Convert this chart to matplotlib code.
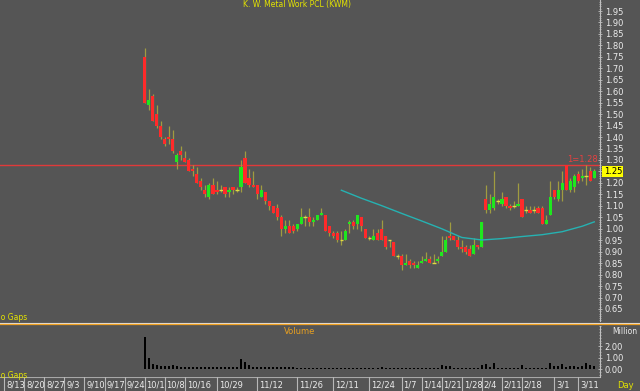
import matplotlib
matplotlib.use("Agg")
import matplotlib.pyplot as plt
from matplotlib.lines import Line2D
from matplotlib.ticker import MultipleLocator

# ---------------- data ----------------
title = "K. W. Metal Work PCL (KWM)"

opens = [1.75, 1.54, 1.58, 1.50, 1.45, 1.39, 1.40, 1.39, 1.29, 1.34,
         1.31, 1.30, 1.26, 1.24, 1.21, 1.17, 1.14, 1.19, 1.17, 1.17,
         1.18, 1.16, 1.18, 1.17, 1.18, 1.31, 1.22, 1.19, 1.19, 1.14,
         1.16, 1.12, 1.10, 1.09, 1.05, 1.00, 1.01, 1.01, 1.00, 1.02,
         1.05, 1.05, 1.03, 1.04, 1.06, 1.06, 1.01, 0.98, 0.98, 0.95,
         0.95, 1.02, 1.03, 1.02, 1.05, 1.00, 0.96, 0.95, 0.98, 1.00,
         0.97, 0.95, 0.94, 0.88, 0.88, 0.84, 0.86, 0.85, 0.83, 0.85,
         0.86, 0.87, 0.85, 0.86, 0.88, 0.90, 0.97, 0.97, 0.95, 0.92,
         0.92, 0.91, 0.89, 0.93, 0.92, 1.13, 1.08, 1.09, 1.12, 1.11,
         1.14, 1.10, 1.10, 1.10, 1.13, 1.08, 1.08, 1.08, 1.09, 1.09,
         1.02, 1.06, 1.17, 1.13, 1.17, 1.28, 1.17, 1.18, 1.24, 1.22,
         1.23, 1.25, 1.22]
highs = [1.79, 1.61, 1.59, 1.54, 1.47, 1.40, 1.45, 1.43, 1.33, 1.36,
         1.34, 1.31, 1.28, 1.27, 1.22, 1.19, 1.20, 1.22, 1.21, 1.19,
         1.18, 1.18, 1.18, 1.18, 1.30, 1.34, 1.26, 1.25, 1.19, 1.19,
         1.16, 1.12, 1.10, 1.11, 1.06, 1.04, 1.04, 1.02, 1.02, 1.09,
         1.06, 1.09, 1.05, 1.06, 1.09, 1.06, 1.01, 0.99, 0.99, 0.99,
         1.00, 1.04, 1.04, 1.06, 1.05, 1.00, 0.97, 1.00, 1.00, 1.04,
         0.97, 0.95, 0.94, 0.89, 0.89, 0.89, 0.87, 0.86, 0.86, 0.88,
         0.90, 0.88, 0.89, 0.88, 0.97, 0.97, 1.03, 0.97, 0.97, 0.95,
         0.93, 0.93, 0.96, 0.93, 1.03, 1.19, 1.15, 1.25, 1.13, 1.16,
         1.14, 1.11, 1.12, 1.20, 1.13, 1.10, 1.10, 1.10, 1.10, 1.10,
         1.06, 1.21, 1.17, 1.21, 1.25, 1.28, 1.22, 1.24, 1.25, 1.26,
         1.28, 1.27, 1.26]
lows = [1.55, 1.52, 1.47, 1.44, 1.39, 1.36, 1.37, 1.33, 1.26, 1.30,
        1.29, 1.25, 1.23, 1.20, 1.17, 1.14, 1.13, 1.15, 1.15, 1.16,
        1.14, 1.14, 1.15, 1.16, 1.16, 1.20, 1.18, 1.18, 1.13, 1.14,
        1.11, 1.08, 1.07, 1.04, 0.97, 0.98, 0.98, 0.98, 0.99, 1.02,
        1.01, 1.01, 1.01, 1.04, 1.06, 0.99, 0.97, 0.96, 0.94, 0.93,
        0.95, 0.98, 1.00, 1.00, 0.99, 0.96, 0.95, 0.95, 0.95, 0.95,
        0.91, 0.92, 0.88, 0.87, 0.82, 0.84, 0.83, 0.83, 0.83, 0.85,
        0.86, 0.85, 0.85, 0.85, 0.88, 0.90, 0.95, 0.95, 0.91, 0.90,
        0.89, 0.88, 0.89, 0.91, 0.92, 1.07, 1.07, 1.08, 1.11, 1.10,
        1.09, 1.08, 1.09, 1.10, 1.05, 1.07, 1.07, 1.07, 1.07, 1.02,
        1.02, 1.06, 1.13, 1.12, 1.12, 1.17, 1.16, 1.16, 1.20, 1.21,
        1.19, 1.21, 1.22]
closes = [1.55, 1.56, 1.47, 1.45, 1.40, 1.37, 1.39, 1.34, 1.32, 1.32,
          1.29, 1.25, 1.25, 1.20, 1.18, 1.15, 1.19, 1.15, 1.16, 1.17,
          1.15, 1.17, 1.17, 1.17, 1.27, 1.20, 1.19, 1.18, 1.15, 1.17,
          1.12, 1.10, 1.07, 1.05, 1.00, 1.01, 0.98, 0.99, 1.02, 1.05,
          1.05, 1.03, 1.04, 1.06, 1.07, 0.99, 0.98, 0.97, 0.95, 0.95,
          0.99, 1.03, 1.01, 1.06, 1.01, 0.96, 0.96, 0.97, 0.95, 0.95,
          0.92, 0.95, 0.88, 0.88, 0.84, 0.85, 0.84, 0.84, 0.84, 0.86,
          0.87, 0.85, 0.85, 0.87, 0.90, 0.95, 0.96, 0.95, 0.92, 0.91,
          0.90, 0.88, 0.93, 0.92, 1.03, 1.08, 1.11, 1.14, 1.12, 1.13,
          1.10, 1.09, 1.10, 1.11, 1.05, 1.08, 1.07, 1.08, 1.07, 1.02,
          1.04, 1.14, 1.14, 1.17, 1.20, 1.17, 1.21, 1.23, 1.21, 1.23,
          1.23, 1.21, 1.25]
volumes = [2.85, 0.98, 0.46, 0.41, 0.29, 0.29, 0.29, 0.35, 0.29, 0.23,
           0.20, 0.20, 0.23, 0.20, 0.20, 0.20, 0.20, 0.20, 0.20, 0.20,
           0.20, 0.20, 0.20, 0.20, 0.87, 0.64, 0.35, 0.23, 0.20, 0.20,
           0.20, 0.20, 0.17, 0.20, 0.17, 0.17, 0.17, 0.17, 0.15, 0.15,
           0.15, 0.15, 0.15, 0.15, 0.15, 0.15, 0.15, 0.15, 0.15, 0.15,
           0.15, 0.15, 0.15, 0.15, 0.15, 0.15, 0.15, 0.15, 0.15, 0.20,
           0.15, 0.15, 0.15, 0.15, 0.15, 0.15, 0.15, 0.15, 0.15, 0.15,
           0.15, 0.15, 0.15, 0.15, 0.35, 0.33, 0.30, 0.15, 0.15, 0.15,
           0.15, 0.15, 0.15, 0.15, 0.35, 0.46, 0.20, 0.58, 0.15, 0.15,
           0.15, 0.15, 0.15, 0.15, 0.35, 0.15, 0.15, 0.15, 0.15, 0.15,
           0.15, 0.52, 0.25, 0.30, 0.46, 0.20, 0.25, 0.25, 0.20, 0.25,
           0.58, 0.41, 0.29]

first_day = 35          # 10/1 is the 35th trading day after 8/13
ma_days = [50, 55, 60, 65, 70, 75, 80, 85, 90, 95, 100, 105, 110, 113]
ma_vals = [1.168, 1.133, 1.101, 1.067, 1.034, 1.000, 0.962, 0.951,
           0.957, 0.966, 0.974, 0.987, 1.011, 1.030]
ref_level = 1.28

date_labels = ["8/13", "8/20", "8/27", "9/3", "9/10", "9/17", "9/24", "10/1",
               "10/8", "10/16", "10/29", "11/12", "11/26", "12/11", "12/24",
               "1/7", "1/14", "1/21", "1/28", "2/4", "2/11", "2/18", "3/1", "3/11"]
date_pos = [0, 5, 10, 15, 20, 25, 30, 35, 40, 45, 53, 63, 73, 82, 91,
            99, 104, 109, 114, 119, 124, 129, 137, 143]

# ---------------- style ----------------
W, H = 640, 391
BG = "#555555"
WICK = "#a09c40"
UP = "#1ee81e"
DOWN = "#ff2a2a"
DOJI = "#e0dc40"
TXT = "#ececec"
YEL = "#e4e400"
AXC = "#c0c0c0"
FS = 6


def rect(x0, y0, x1, y1):
    return [x0 / W, 1 - y1 / H, (x1 - x0) / W, (y1 - y0) / H]


XLIM = (-1.05, 148.43)

fig = plt.figure(figsize=(W / 100, H / 100), dpi=100, facecolor=BG)

# ---- price panel ----
ax = fig.add_axes(rect(0, 0, 600, 321))
ax.set_facecolor(BG)
ax.set_xlim(*XLIM)
ax.set_ylim(0.5975, 1.998)

xs = list(range(first_day, first_day + len(closes)))
for x, o, h, l, c in zip(xs, opens, highs, lows, closes):
    ax.vlines(x, l, h, color=WICK, lw=0.9, zorder=2)
    if c > o:
        ax.bar(x, c - o, bottom=o, width=0.78, color=UP, lw=0, zorder=3)
    elif c < o:
        ax.bar(x, o - c, bottom=c, width=0.78, color=DOWN, lw=0, zorder=3)
    else:
        ax.hlines(c, x - 0.45, x + 0.45, color=DOJI, lw=1.0, zorder=3)

ma_x = [first_day - 1 + d for d in ma_days]
ax.plot(ma_x, ma_vals, color="#26b2b2", lw=1.0, zorder=4)

ax.axhline(ref_level, color="#e03a3a", lw=1.0, zorder=1)
ax.text(xs[-1] + 0.8, ref_level + 0.004, f"1={ref_level:.2f}", color="#e84040",
        fontsize=FS, ha="right", va="bottom", zorder=5)

for s in ["left", "top", "bottom"]:
    ax.spines[s].set_visible(False)
ax.spines["right"].set_color(AXC)
ax.spines["right"].set_linewidth(0.8)
ax.set_xticks([])
yt = [round(0.65 + 0.05 * i, 2) for i in range(27)]
ax.set_yticks(yt)
ax.set_yticklabels(["" if abs(t - closes[-1]) < 1e-6 else f"{t:.2f}" for t in yt])
ax.yaxis.set_minor_locator(MultipleLocator(0.01))
ax.yaxis.tick_right()
ax.tick_params(axis="y", which="major", colors=AXC, labelcolor=TXT,
               labelsize=FS, length=3, width=0.6, pad=2, direction="inout")
ax.tick_params(axis="y", which="minor", colors=AXC, length=1.5, width=0.5,
               direction="inout")

# last price marker
ax.text(1.006, closes[-1], f"{closes[-1]:.2f}", transform=ax.get_yaxis_transform(),
        fontsize=FS, color="black", ha="left", va="center", clip_on=False,
        bbox=dict(boxstyle="square,pad=0.15", fc="#ffff00", ec="none"), zorder=6)

fig.text(297 / W, 1 - 4 / H, title, color=YEL, fontsize=5.5, ha="center", va="center")
fig.text(-5 / W, 1 - 317 / H, "No Gaps", color=YEL, fontsize=5.5, ha="left", va="center")

# ---- panel separator ----
fig.add_artist(Line2D([0, 1], [1 - 322.5 / H] * 2, color="#e0e0e0", lw=0.8,
                      transform=fig.transFigure))
fig.add_artist(Line2D([0, 1], [1 - 324 / H] * 2, color="#f0a020", lw=0.9,
                      transform=fig.transFigure))

# ---- volume panel ----
axv = fig.add_axes(rect(0, 326, 600, 377))
axv.set_facecolor(BG)
axv.set_xlim(*XLIM)
axv.set_ylim(-0.67, 3.765)
axv.bar(xs, volumes, width=0.5, color="black", lw=0)
for s in ["left", "top", "bottom"]:
    axv.spines[s].set_visible(False)
axv.spines["right"].set_color(AXC)
axv.spines["right"].set_linewidth(0.8)
axv.set_xticks([])
axv.set_yticks([0, 1, 2])
axv.set_yticklabels(["0.00", "1.00", "2.00"])
axv.yaxis.set_minor_locator(MultipleLocator(0.25))
axv.yaxis.tick_right()
axv.tick_params(axis="y", which="major", colors=AXC, labelcolor=TXT,
                labelsize=FS, length=3, width=0.6, pad=2, direction="inout")
axv.tick_params(axis="y", which="minor", colors=AXC, length=1.5, width=0.5,
                direction="inout")
fig.text(300 / W, 1 - 331 / H, "Volume", color="#e8a020", fontsize=FS, ha="center", va="center")
fig.text(637 / W, 1 - 331 / H, "Million", color=TXT, fontsize=5.5, ha="right", va="center")
fig.text(-5 / W, 1 - 375 / H, "No Gaps", color=YEL, fontsize=5.5, ha="left", va="center")

# ---- date strip ----
axd = fig.add_axes(rect(0, 377, 600, 391))
axd.set_facecolor(BG)
axd.set_xlim(*XLIM)
axd.set_ylim(0, 1)
axd.axis("off")
axd.axhline(1, color="#a8a8a8", lw=0.8)
for p, lab in zip(date_pos, date_labels):
    axd.axvline(p, color="#b8b8b8", lw=0.8)
    axd.text(p + 0.45, 0.42, lab, color=TXT, fontsize=FS, ha="left", va="center")
fig.text(617 / W, 1 - 385 / H, "Day", color=YEL, fontsize=FS, ha="left", va="center")

fig.savefig("out.png", dpi=100, facecolor=BG)
